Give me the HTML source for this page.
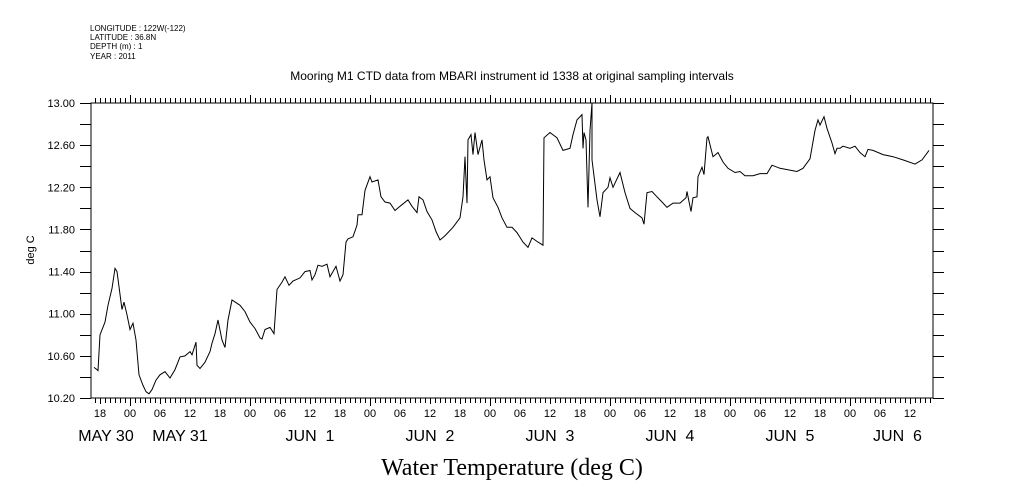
<!DOCTYPE html>
<html><head><meta charset="utf-8"><style>
body{margin:0;background:#fff;}
svg{display:block;font-family:"Liberation Sans",sans-serif;}
</style></head><body>
<svg id="chart" width="1009" height="504" viewBox="0 0 1009 504">
<g font-size="8" fill="#000">
<text x="90" y="31">LONGITUDE : 122W(-122)</text>
<text x="90" y="40">LATITUDE : 36.8N</text>
<text x="90" y="49">DEPTH (m) : 1</text>
<text x="90" y="59">YEAR : 2011</text>
</g>
<text x="512" y="80" font-size="12" text-anchor="middle">Mooring M1 CTD data from MBARI instrument id 1338 at original sampling intervals</text>
<text transform="translate(34,250) rotate(-90)" font-size="11" text-anchor="middle">deg C</text>
<text x="512" y="475" font-size="24" font-family="'Liberation Serif',serif" text-anchor="middle">Water Temperature (deg C)</text>
<g id="axes"></g>
<path id="line" fill="none" stroke="#000" stroke-width="1"/>
</svg>
<script>
const hours=[-7.2,-6.6,-6.4,-6,-5,-4.4,-3.6,-3,-2.6,-1.6,-1.2,-0.6,0,0.6,1.2,1.8,2.6,3.2,3.8,4.4,5.2,6,7,8,9,10,11,12,12.4,13.2,13.4,14,15,16,16.4,17,17.6,18.4,19,19.6,20.4,22,23,24,25,26,26.4,27,28,28.8,29.4,30.4,31,31.8,32.6,34,35,36,36.4,37,37.6,38.4,39.4,40,41.2,42,42.6,43.2,43.6,44.6,45.4,45.6,46.4,47,48,48.4,49.6,50.2,51,52,53,54,55.6,56.4,57.4,57.8,58.6,59.4,60.4,61.2,62,63,64.6,66,66.6,67,67.4,67.6,68.2,68.6,69,69.6,70.4,70.8,71.4,72,72.6,73.6,74.4,75.4,76.4,77.4,78.6,79.6,80.4,81.6,82.6,82.8,84,85.4,86.6,88,88.6,89.4,90.4,90.6,90.8,91.2,91.6,92,92.4,92.4,93.4,94,94.6,95.6,96,96.6,98,99,100,101,102.4,102.8,103.4,104.4,105.4,106.4,107.4,108.6,110,111.2,111.4,112.2,112.6,113.4,113.6,114.4,114.8,115.4,115.6,116.6,117.6,118.6,119.6,121,122,123,124.6,126,127.4,128.4,130,133.4,134.6,136,137,137.6,138,138.8,139.4,140.4,141,141.4,142,142.6,144,145,146,147,147.6,148.6,150.6,152.6,154.6,157,158.4,159.8];
const temps=[10.49,10.47,10.46,10.8,10.92,11.08,11.24,11.43,11.4,11.04,11.11,10.99,10.85,10.91,10.75,10.42,10.32,10.26,10.24,10.28,10.37,10.42,10.45,10.39,10.47,10.59,10.6,10.64,10.61,10.73,10.51,10.48,10.54,10.64,10.72,10.81,10.94,10.75,10.68,10.94,11.13,11.08,11.02,10.92,10.86,10.77,10.76,10.85,10.87,10.81,11.23,11.3,11.35,11.27,11.31,11.34,11.4,11.41,11.32,11.37,11.46,11.45,11.47,11.35,11.45,11.31,11.37,11.68,11.71,11.73,11.84,11.94,11.94,12.17,12.3,12.25,12.27,12.11,12.06,12.05,11.98,12.02,12.08,12.02,11.96,12.11,12.08,11.97,11.89,11.78,11.7,11.74,11.82,11.91,12.11,12.49,12.05,12.65,12.7,12.51,12.72,12.51,12.65,12.46,12.27,12.3,12.1,12.01,11.91,11.82,11.82,11.77,11.68,11.63,11.72,11.68,11.65,12.67,12.72,12.67,12.55,12.57,12.7,12.84,12.89,12.57,12.72,12.65,12.01,12.74,13.0,12.46,12.08,11.92,12.15,12.2,12.29,12.2,12.34,12.15,12,11.96,11.91,11.85,12.15,12.16,12.11,12.06,12.01,12.05,12.05,12.1,12.16,11.97,12.1,12.11,12.3,12.39,12.32,12.67,12.68,12.49,12.53,12.44,12.38,12.34,12.35,12.31,12.31,12.33,12.33,12.41,12.38,12.35,12.38,12.47,12.74,12.84,12.79,12.87,12.76,12.62,12.52,12.57,12.57,12.59,12.57,12.59,12.53,12.49,12.56,12.55,12.51,12.49,12.46,12.42,12.46,12.55];
const yTicks=[10.2,10.6,11.0,11.4,11.8,12.2,12.6,13.0];
const hourLabels=["18","00","06","12","18","00","06","12","18","00","06","12","18","00","06","12","18","00","06","12","18","00","06","12","18","00","06","12"];
const dayLabels=["MAY 30","MAY 31","JUN  1","JUN  2","JUN  3","JUN  4","JUN  5","JUN  6"];
const dayLabelHours=[-4.8,10,36,60,84,108,132,153.5];

const L=91,R=933,T=103,B=398,X0=130,PXH=5,YMIN=10.2,YMAX=13.0;
const xs=h=>X0+h*PXH;
const ys=v=>B-(v-YMIN)/(YMAX-YMIN)*(B-T);
const NS="http://www.w3.org/2000/svg";
const ax=document.getElementById('axes');
function el(tag,attrs,txt){const e=document.createElementNS(NS,tag);for(const k in attrs)e.setAttribute(k,attrs[k]);if(txt!==undefined)e.textContent=txt;ax.appendChild(e);return e;}
let f=el('rect',{x:L,y:T,width:R-L,height:B-T,fill:'none',stroke:'#000','stroke-width':1});


let d='';
for(let h=Math.ceil((L-X0)/PXH);X0+h*PXH<=R;h++){const x=xs(h)+0.5;const maj=((h%24)+24)%24===0;const six=((h%6)+6)%6===0;
d+=`M${x},${B}v${maj?8:(six?6:5)}M${x},${T}v${maj?-8:-5}`;}
for(let i=0;i<=14;i++){const v=10.2+i*0.2,y=Math.round(ys(v))+0.5;d+=`M${L},${y}h-11M${R},${y}h11`;}
let tk=el('path',{d:d,stroke:'#000','stroke-width':1,fill:'none'});


yTicks.forEach(v=>{const t=el('text',{x:75,y:ys(v)+4,'font-size':11,'text-anchor':'end'},v.toFixed(2));

});
hourLabels.forEach((s,i)=>{const h=-6+i*6;const t=el('text',{x:xs(h),y:417,'font-size':11,'text-anchor':'middle'},s);

});
dayLabels.forEach((s,i)=>{const t=el('text',{x:xs(dayLabelHours[i]),y:441,'font-size':16,'text-anchor':'middle'},s);
t.style.whiteSpace='pre';

});
document.getElementById('line').setAttribute('d',hours.map((h,i)=>(i?'L':'M')+xs(h).toFixed(1)+','+ys(temps[i]).toFixed(1)).join(''));
</script>
</body></html>
